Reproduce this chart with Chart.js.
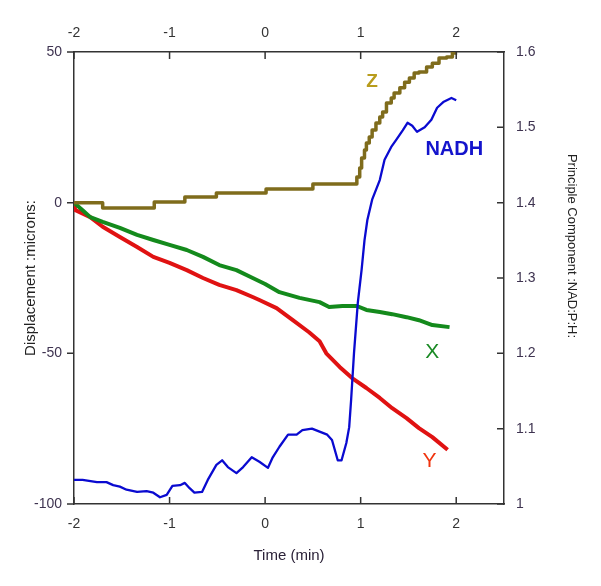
<!DOCTYPE html>
<html>
<head>
<meta charset="utf-8">
<script src="https://cdn.jsdelivr.net/npm/chart.js@4/dist/chart.umd.min.js"></script>
<style>
  html, body { margin: 0; padding: 0; background: #fff; }
  canvas { display: block; }
</style>
</head>
<body>
<canvas id="dispChart" width="601" height="586"></canvas>
<script>
// time axis (min) and tick labels
const timeTicks = [-2, -1, 0, 1, 2];
const dispTicks = [-100, -50, 0, 50];
const pcTicks = [1, 1.1, 1.2, 1.3, 1.4, 1.5, 1.6];

// Z displacement (stepped)
const zTime = [-2, -1.70, -1.16, -0.84, -0.51, 0.01, 0.50, 0.96, 0.99, 1.01, 1.04, 1.06, 1.09, 1.12, 1.16, 1.20, 1.23, 1.27, 1.32, 1.35, 1.41, 1.46, 1.51, 1.56, 1.61, 1.69, 1.75, 1.82, 1.90, 1.96, 2.01];
const zDisp = [0, -1.8, 0.2, 1.9, 3.2, 4.5, 6.2, 8.5, 11.5, 14.8, 17.5, 19.8, 21.8, 24.1, 26.4, 28.4, 30.1, 33.1, 34.7, 36.4, 38.1, 40.0, 41.4, 43.0, 43.4, 45.0, 46.3, 48.0, 48.3, 49.7, 49.7];

// X displacement
const xTime = [-2, -1.91, -1.83, -1.70, -1.52, -1.34, -1.17, -1.0, -0.82, -0.65, -0.48, -0.30, -0.13, 0.0, 0.15, 0.36, 0.57, 0.67, 0.81, 0.96, 1.06, 1.20, 1.33, 1.48, 1.61, 1.75, 1.93];
const xDisp = [0, -2.5, -4.8, -6.4, -8.4, -10.7, -12.4, -14, -15.7, -18, -20.7, -22.4, -25, -27, -29.7, -31.6, -33, -34.6, -34.3, -34.3, -35.6, -36.3, -37, -38, -39, -40.6, -41.3];

// Y displacement
const yTime = [-2, -1.99, -1.83, -1.70, -1.52, -1.34, -1.17, -1.0, -0.82, -0.65, -0.48, -0.30, -0.13, -0.06, 0.12, 0.29, 0.46, 0.57, 0.64, 0.78, 0.91, 1.06, 1.20, 1.33, 1.48, 1.61, 1.75, 1.91];
const yDisp = [-1.5, -2.4, -4.8, -8, -11.4, -14.7, -18, -20, -22.4, -25, -27.3, -29, -31.3, -32.3, -35, -39, -43, -46, -50, -54.5, -58.2, -61.5, -64.8, -68.2, -71.5, -74.8, -77.8, -82];

// NADH principle component (right axis)
const nadhTime = [-2, -1.91, -1.76, -1.66, -1.59, -1.52, -1.45, -1.34, -1.24, -1.17, -1.10, -1.03, -0.97, -0.89, -0.84, -0.79, -0.74, -0.66, -0.60, -0.51, -0.45, -0.39, -0.30, -0.23, -0.14, -0.06, 0.03, 0.08, 0.15, 0.24, 0.33, 0.39, 0.49, 0.57, 0.65, 0.70, 0.76, 0.80, 0.85, 0.88, 0.90, 0.93, 0.97, 1.01, 1.04, 1.07, 1.12, 1.20, 1.25, 1.32, 1.37, 1.44, 1.49, 1.54, 1.59, 1.67, 1.74, 1.80, 1.87, 1.95, 2.00];
const nadhPC = [1.032, 1.032, 1.029, 1.029, 1.025, 1.023, 1.019, 1.016, 1.017, 1.015, 1.009, 1.012, 1.024, 1.025, 1.028, 1.021, 1.015, 1.016, 1.032, 1.052, 1.058, 1.049, 1.041, 1.049, 1.062, 1.056, 1.048, 1.062, 1.076, 1.092, 1.092, 1.098, 1.100, 1.096, 1.092, 1.085, 1.058, 1.058, 1.081, 1.102, 1.138, 1.200, 1.267, 1.311, 1.350, 1.377, 1.404, 1.430, 1.457, 1.474, 1.483, 1.496, 1.506, 1.502, 1.494, 1.500, 1.510, 1.526, 1.534, 1.539, 1.536];

// in-plot series names, anchored in data coords (time, displacement)
const seriesNames = ['Z', 'NADH', 'X', 'Y'];
const nameTime = [1.12, 1.98, 1.75, 1.72];
const nameDisp = [40, 17.5, -49.6, -85.7];

const rightTitle = 'Principle Component :NAD:P:H:';

const pts = (xs, ys) => xs.map((t, i) => ({x: t, y: ys[i]}));
const fmt = v => String(Math.round(v * 10) / 10);
const axisColor = '#333';
const family = '"Liberation Sans", Arial';

// tick marks drawn by hand: inward on the time axes and the right axis, outward on the left
const tickMarks = {
  id: 'tickMarks',
  afterDraw(chart) {
    const {ctx, chartArea: a, scales} = chart;
    const len = 7;
    ctx.save();
    ctx.strokeStyle = axisColor;
    ctx.lineWidth = 1.5;
    ctx.beginPath();
    timeTicks.forEach(v => {
      const px = scales.x.getPixelForValue(v);
      ctx.moveTo(px, a.bottom); ctx.lineTo(px, a.bottom - len);
      ctx.moveTo(px, a.top); ctx.lineTo(px, a.top + len);
    });
    dispTicks.forEach(v => {
      const py = scales.y.getPixelForValue(v);
      ctx.moveTo(a.left - len, py); ctx.lineTo(a.left, py);
    });
    pcTicks.forEach(v => {
      const py = scales.y2.getPixelForValue(v);
      ctx.moveTo(a.right - len, py); ctx.lineTo(a.right, py);
    });
    ctx.stroke();

    // right axis title sits a bit above the middle in the original
    ctx.translate(572, (a.top + a.bottom) / 2 - 32);
    ctx.rotate(Math.PI / 2);
    ctx.font = '13px ' + family;
    ctx.fillStyle = '#222';
    ctx.textAlign = 'center';
    ctx.textBaseline = 'middle';
    ctx.fillText(rightTitle, 0, 0);
    ctx.restore();
  }
};

const seriesLabels = {
  id: 'seriesLabels',
  afterDatasetsDraw(chart) {
    const {ctx, scales} = chart;
    const fonts = ['bold 19px ' + family, 'bold 20px ' + family, '21px ' + family, '21px ' + family];
    const colors = ['#b89c1c', '#1414cc', '#1a8a24', '#f0340e'];
    ctx.save();
    ctx.textAlign = 'center';
    ctx.textBaseline = 'middle';
    seriesNames.forEach((n, i) => {
      ctx.font = fonts[i];
      ctx.fillStyle = colors[i];
      ctx.fillText(n, scales.x.getPixelForValue(nameTime[i]), scales.y.getPixelForValue(nameDisp[i]));
    });
    ctx.restore();
  }
};

const tickFont = {family: family, size: 14};
const titleFont = {family: family, size: 15};

new Chart(document.getElementById('dispChart'), {
  type: 'line',
  data: {
    datasets: [
      {label: 'NADH', data: pts(nadhTime, nadhPC), yAxisID: 'y2', borderColor: '#0a0ad0', borderWidth: 2.3},
      {label: 'Z', data: pts(zTime, zDisp), yAxisID: 'y', borderColor: '#7f6c1c', borderWidth: 3.5, stepped: true},
      {label: 'X', data: pts(xTime, xDisp), yAxisID: 'y', borderColor: '#148a1c', borderWidth: 4},
      {label: 'Y', data: pts(yTime, yDisp), yAxisID: 'y', borderColor: '#e01212', borderWidth: 4}
    ]
  },
  options: {
    responsive: false,
    animation: false,
    devicePixelRatio: 1,
    layout: {padding: 0},
    elements: {point: {radius: 0}, line: {tension: 0, fill: false, borderJoinStyle: 'round'}},
    plugins: {legend: {display: false}, tooltip: {enabled: false}},
    scales: {
      x: {
        type: 'linear', position: 'bottom', min: -2, max: 2.5,
        afterBuildTicks: s => { s.ticks = timeTicks.map(v => ({value: v})); },
        afterFit: s => { s.height = 82; },
        grid: {display: false, drawTicks: false},
        border: {color: axisColor, width: 1.5},
        ticks: {font: tickFont, color: '#333', padding: 12, maxRotation: 0},
        title: {display: true, text: 'Time (min)', font: titleFont, color: '#2b2238', padding: {bottom: 21}}
      },
      x2: {
        type: 'linear', position: 'top', min: -2, max: 2.5,
        afterBuildTicks: s => { s.ticks = timeTicks.map(v => ({value: v})); },
        afterFit: s => { s.height = 52; },
        grid: {display: false, drawTicks: false},
        border: {color: axisColor, width: 1.5},
        ticks: {font: tickFont, color: '#333', padding: 10, maxRotation: 0}
      },
      y: {
        type: 'linear', position: 'left', min: -100, max: 50,
        afterBuildTicks: s => { s.ticks = dispTicks.map(v => ({value: v})); },
        afterFit: s => { s.width = 74; },
        grid: {display: false, drawTicks: false},
        border: {color: axisColor, width: 1.5},
        ticks: {font: tickFont, color: '#3e3350', padding: 12},
        title: {display: true, text: 'Displacement :microns:', font: titleFont, color: '#222', padding: {top: 22}}
      },
      y2: {
        type: 'linear', position: 'right', min: 1, max: 1.6,
        afterBuildTicks: s => { s.ticks = pcTicks.map(v => ({value: v})); },
        afterFit: s => { s.width = 97; },
        grid: {display: false, drawTicks: false},
        border: {color: axisColor, width: 1.5},
        ticks: {font: tickFont, color: '#3e3350', padding: 12, callback: v => fmt(v)}
      }
    }
  },
  plugins: [tickMarks, seriesLabels]
});
</script>
</body>
</html>
